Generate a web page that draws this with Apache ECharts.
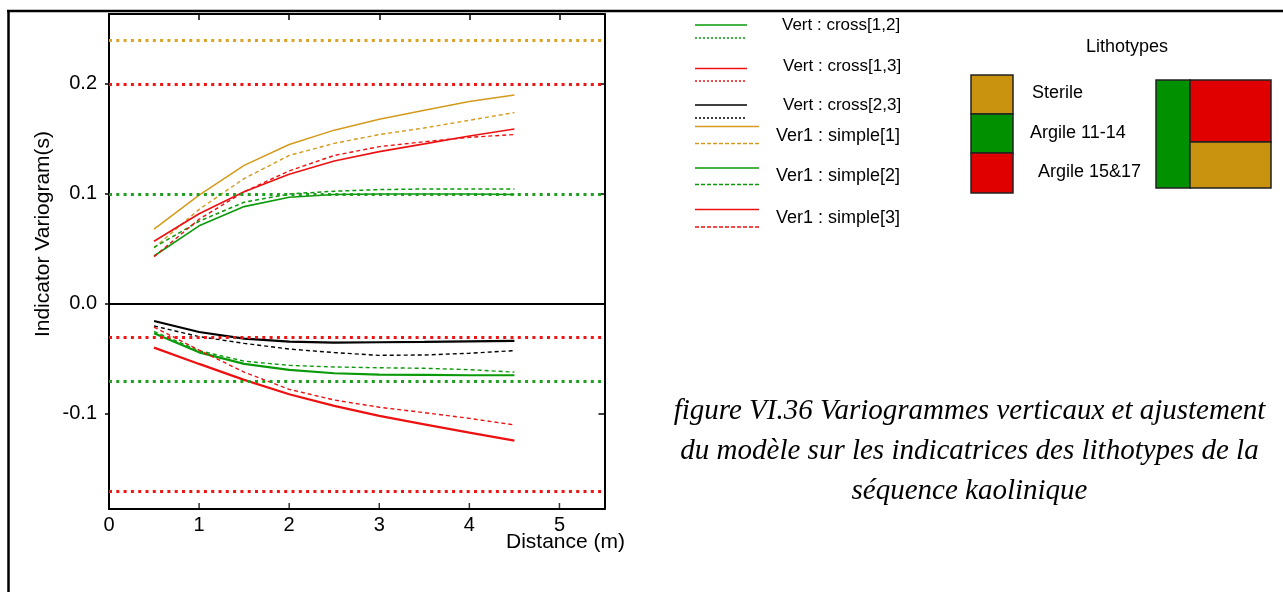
<!DOCTYPE html>
<html>
<head>
<meta charset="utf-8">
<script src="https://cdn.jsdelivr.net/npm/echarts@6/dist/echarts.min.js"></script>
<style>
html,body{margin:0;padding:0;background:#fff;}
#chart{width:1283px;height:592px;}
</style>
</head>
<body>
<div id="chart"></div>
<script>
// ---- data ----
const distances = [0.5, 1.0, 1.5, 2.0, 2.5, 3.0, 3.5, 4.0, 4.5];

const simple1Model = [0.068, 0.099, 0.126, 0.145, 0.158, 0.168, 0.176, 0.184, 0.190];
const simple1Exp   = [0.051, 0.086, 0.114, 0.135, 0.146, 0.154, 0.160, 0.167, 0.174];
const simple2Model = [0.0436, 0.071, 0.0885, 0.097, 0.0995, 0.100, 0.100, 0.100, 0.0995];
const simple2Exp   = [0.0515, 0.0752, 0.0925, 0.100, 0.1025, 0.104, 0.1045, 0.1045, 0.1045];
const simple3Model = [0.057, 0.082, 0.102, 0.118, 0.130, 0.1385, 0.1455, 0.1527, 0.159];
const simple3Exp   = [0.043, 0.077, 0.102, 0.121, 0.135, 0.143, 0.1475, 0.1515, 0.154];

const cross12Model = [-0.0267, -0.0440, -0.0545, -0.0600, -0.0630, -0.0642, -0.0645, -0.0648, -0.0648];
const cross12Exp   = [-0.0250, -0.0425, -0.0520, -0.0558, -0.0573, -0.0580, -0.0585, -0.0597, -0.0620];
const cross13Model = [-0.0397, -0.0545, -0.0690, -0.0821, -0.0927, -0.1018, -0.1094, -0.1170, -0.1242];
const cross13Exp   = [-0.0210, -0.0420, -0.0620, -0.0776, -0.0873, -0.0939, -0.0988, -0.1040, -0.1100];
const cross23Model = [-0.0155, -0.0255, -0.0315, -0.0342, -0.0351, -0.0348, -0.0345, -0.0340, -0.0336];
const cross23Exp   = [-0.0200, -0.0297, -0.0358, -0.0410, -0.0442, -0.0467, -0.0464, -0.0448, -0.0424];

// sills (horizontal dotted reference lines)
const sillValues = [0.240, 0.203, 0.101, -0.033, -0.069, -0.170];

const xTickValues = [1, 2, 3, 4, 5];
const yTicks = [-0.1, 0.0, 0.1, 0.2];
const Y_MIN = -0.1864, Y_MAX = 0.2636;

const legendLabels = ['Vert : cross[1,2]', 'Vert : cross[1,3]', 'Vert : cross[2,3]',
                      'Ver1 : simple[1]', 'Ver1 : simple[2]', 'Ver1 : simple[3]'];
const lithoLabels = ['Sterile', 'Argile 11-14', 'Argile 15&17'];
const captionLines = ['figure VI.36 Variogrammes verticaux et ajustement',
                      'du modèle sur les indicatrices des lithotypes de la',
                      'séquence kaolinique'];

// ---- styles ----
const C_OR = '#d49a1c', C_RD = '#ee1111', C_GR = '#0a9a0a', C_BK = '#000000';
const sillColors = ['#dba226', '#ee1515', '#1f9f1f', '#ee1515', '#1f9f1f', '#ee1515'];
const BOX_OR = '#c9930f', BOX_GR = '#009000', BOX_RD = '#e00000';
const FONT = "'Liberation Sans', Arial, Helvetica, sans-serif";

function pairs(ys) { return distances.map((d, i) => [d, ys[i]]); }
function lineSeries(ys, color, width, dash) {
  return {
    type: 'line', xAxisIndex: 0, yAxisIndex: 0, data: pairs(ys),
    showSymbol: false, symbol: 'none', smooth: false, silent: true,
    lineStyle: { color: color, width: width, type: dash || 'solid' },
    z: 3
  };
}

const series = [
  lineSeries(simple1Model, C_OR, 1.5),
  lineSeries(simple1Exp, C_OR, 1.4, [4, 3]),
  lineSeries(simple2Model, C_GR, 1.6),
  lineSeries(simple2Exp, C_GR, 1.5, [4, 3]),
  lineSeries(simple3Model, C_RD, 1.6),
  lineSeries(simple3Exp, C_RD, 1.4, [4, 3]),
  lineSeries(cross23Model, C_BK, 2.2),
  lineSeries(cross23Exp, C_BK, 1.4, [4, 3]),
  lineSeries(cross12Model, C_GR, 2.2),
  lineSeries(cross12Exp, C_GR, 1.4, [4, 3]),
  lineSeries(cross13Model, C_RD, 2.2),
  lineSeries(cross13Exp, C_RD, 1.4, [4, 3]),
  // inward tick marks on the bottom axis, placed through the axis scales
  { type: 'scatter', xAxisIndex: 0, yAxisIndex: 0, silent: true, clip: false, z: 5,
    data: xTickValues.map(v => [v, Y_MIN]),
    symbol: 'rect', symbolSize: [1.5, 6], symbolOffset: [0, -3],
    itemStyle: { color: '#000' } }
];

// sill dotted lines + zero line via markLine
series[0].markLine = {
  silent: true, symbol: ['none', 'none'], animation: false,
  label: { show: false },
  data: sillValues.map((v, i) => ({
    yAxis: v,
    lineStyle: { color: sillColors[i], width: 3, type: [3, 4.3], cap: 'butt' }
  })).concat([{ yAxis: 0, lineStyle: { color: '#000', width: 2, type: 'solid' } }])
};

// ---- legend / decorations as graphics ----
const g = [];
// outer frame
g.push({ type: 'line', shape: { x1: 7, y1: 11, x2: 1283, y2: 11 }, style: { stroke: '#000', lineWidth: 2.5 } });
g.push({ type: 'line', shape: { x1: 8.5, y1: 10, x2: 8.5, y2: 592 }, style: { stroke: '#000', lineWidth: 2.5 } });

// axis names
g.push({ type: 'text', x: 43, y: 234, rotation: Math.PI / 2,
  style: { text: 'Indicator Variogram(s)', font: '21px ' + FONT, fill: '#000', textAlign: 'center', textVerticalAlign: 'middle' } });
g.push({ type: 'text', x: 506, y: 542,
  style: { text: 'Distance (m)', font: '21px ' + FONT, fill: '#000', textAlign: 'left', textVerticalAlign: 'middle' } });

// legend entries
const legendDefs = [
  { c: C_GR, ys: 25, yd: 38, x2: 747, tx: 782, ty: 25, fs: 17, dash: [2, 2] },
  { c: C_RD, ys: 68.5, yd: 81, x2: 747, tx: 783, ty: 66, fs: 17, dash: [2, 2] },
  { c: C_BK, ys: 105, yd: 118, x2: 747, tx: 783, ty: 105, fs: 17, dash: [2, 2] },
  { c: C_OR, ys: 126.5, yd: 143.5, x2: 759, tx: 776, ty: 136, fs: 18, dash: [4, 2] },
  { c: C_GR, ys: 168, yd: 184.5, x2: 759, tx: 776, ty: 176, fs: 18, dash: [4, 2] },
  { c: C_RD, ys: 209.5, yd: 227, x2: 759, tx: 776, ty: 218, fs: 18, dash: [4, 2] }
];
legendDefs.forEach((d, i) => {
  g.push({ type: 'line', shape: { x1: 695, y1: d.ys, x2: d.x2, y2: d.ys }, style: { stroke: d.c, lineWidth: 1.5 } });
  g.push({ type: 'line', shape: { x1: 695, y1: d.yd, x2: d.x2, y2: d.yd }, style: { stroke: d.c, lineWidth: 1.5, lineDash: d.dash } });
  g.push({ type: 'text', x: d.tx, y: d.ty,
    style: { text: legendLabels[i], font: d.fs + 'px ' + FONT, fill: '#000', textAlign: 'left', textVerticalAlign: 'middle' } });
});

// lithotypes
g.push({ type: 'text', x: 1127, y: 47,
  style: { text: 'Lithotypes', font: '18px ' + FONT, fill: '#000', textAlign: 'center', textVerticalAlign: 'middle' } });
const boxStroke = { stroke: '#222', lineWidth: 1.5 };
g.push({ type: 'rect', shape: { x: 971, y: 75, width: 42, height: 39 }, style: Object.assign({ fill: BOX_OR }, boxStroke) });
g.push({ type: 'rect', shape: { x: 971, y: 114, width: 42, height: 39 }, style: Object.assign({ fill: BOX_GR }, boxStroke) });
g.push({ type: 'rect', shape: { x: 971, y: 153, width: 42, height: 40 }, style: Object.assign({ fill: BOX_RD }, boxStroke) });
[[1032, 93], [1030, 133], [1038, 172]].forEach((p, i) => {
  g.push({ type: 'text', x: p[0], y: p[1],
    style: { text: lithoLabels[i], font: '18px ' + FONT, fill: '#000', textAlign: 'left', textVerticalAlign: 'middle' } });
});
g.push({ type: 'rect', shape: { x: 1156, y: 80, width: 34, height: 108 }, style: Object.assign({ fill: BOX_GR }, boxStroke) });
g.push({ type: 'rect', shape: { x: 1190, y: 80, width: 81, height: 62 }, style: Object.assign({ fill: BOX_RD }, boxStroke) });
g.push({ type: 'rect', shape: { x: 1190, y: 142, width: 81, height: 46 }, style: Object.assign({ fill: BOX_OR }, boxStroke) });

// caption
[411, 451.5, 491].forEach((y, i) => {
  g.push({ type: 'text', x: 969.5, y: y,
    style: { text: captionLines[i], font: 'italic 29px "Liberation Serif", "Times New Roman", serif', fill: '#000', textAlign: 'center', textVerticalAlign: 'middle' } });
});

const axisLineStyle = { show: true, onZero: false, lineStyle: { color: '#000', width: 2 } };
const tickStyle = { color: '#000', width: 1.5 };

const option = {
  animation: false,
  backgroundColor: '#fff',
  grid: { left: 109, top: 14, width: 495.5, height: 495, containLabel: false, show: false },
  xAxis: [
    { type: 'value', position: 'bottom', min: 0, max: 5.5, interval: 1,
      axisLine: axisLineStyle,
      axisTick: { show: false },
      axisLabel: { show: true, showMaxLabel: false, color: '#000', fontSize: 20, fontFamily: FONT, margin: 6 },
      splitLine: { show: false } },
    { type: 'value', position: 'top', min: 0, max: 5.5, interval: 1,
      axisLine: axisLineStyle,
      axisTick: { show: true, inside: true, length: 6, lineStyle: tickStyle },
      axisLabel: { show: false }, splitLine: { show: false } }
  ],
  yAxis: [
    { type: 'value', position: 'left', min: Y_MIN, max: Y_MAX,
      axisLine: axisLineStyle,
      axisTick: { show: true, inside: false, length: 4, lineStyle: tickStyle, customValues: yTicks },
      axisLabel: { show: true, customValues: yTicks, color: '#000', fontSize: 20, fontFamily: FONT, margin: 12,
        formatter: v => (Math.abs(v) < 1e-9 ? 0 : v).toFixed(1) },
      splitLine: { show: false } },
    { type: 'value', position: 'right', min: Y_MIN, max: Y_MAX,
      axisLine: axisLineStyle,
      axisTick: { show: true, inside: true, length: 6, lineStyle: tickStyle, customValues: yTicks },
      axisLabel: { show: false }, splitLine: { show: false } }
  ],
  series: series,
  graphic: g
};

const chart = echarts.init(document.getElementById('chart'), null, { renderer: 'canvas' });
chart.setOption(option);
</script>
</body>
</html>
